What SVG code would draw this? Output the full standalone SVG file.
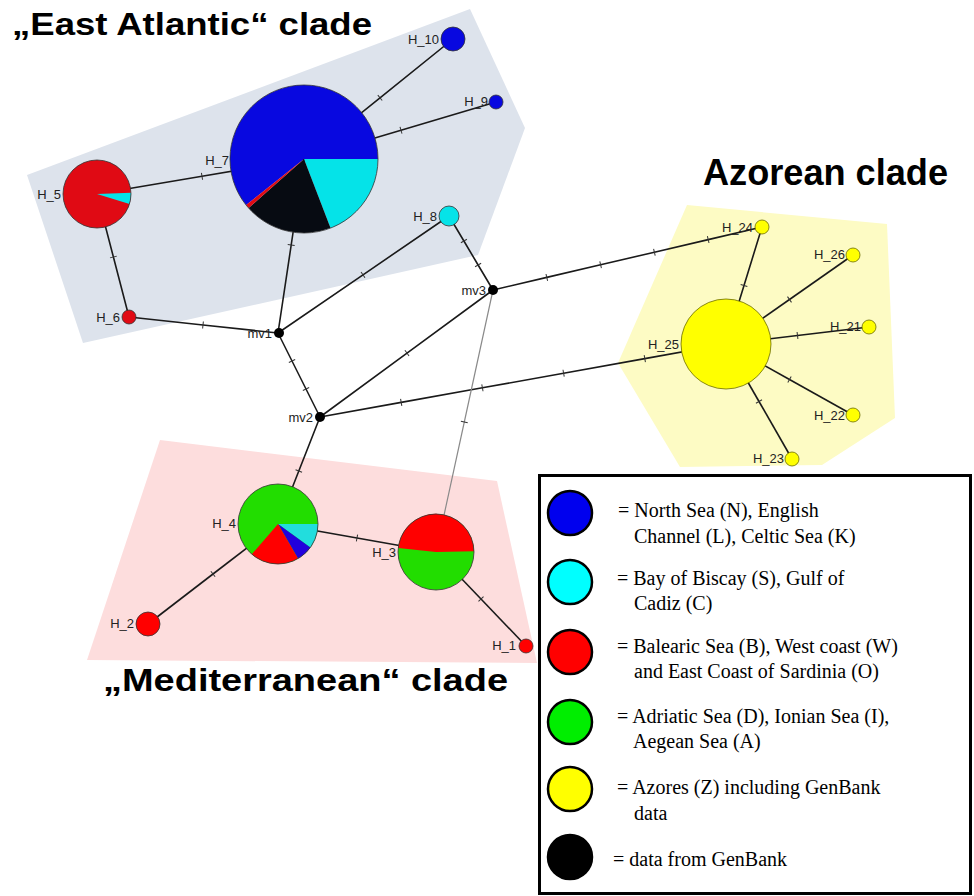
<svg xmlns="http://www.w3.org/2000/svg" width="974" height="896" viewBox="0 0 974 896">
<defs>
<style>
.edge{fill:none;stroke:#1a1a1a;stroke-width:1.6;marker-mid:url(#tick)}
.grey{fill:none;stroke:#8a8a8a;stroke-width:1.2;marker-mid:url(#tick)}
.lbl{font-family:"Liberation Sans",Arial,sans-serif;font-size:13px;fill:#222;text-anchor:end}
.title{font-family:"Liberation Sans",Arial,sans-serif;font-weight:bold;fill:#000}
.leg{font-family:"Liberation Serif","Times New Roman",serif;font-size:20px;fill:#000}
.ol{fill:none;stroke:#333;stroke-width:0.8}
.lc{stroke:#000;stroke-width:2.5}
.bl{fill:#0808e0}.cy{fill:#05e3e8}.bk{fill:#070b12}.rd{fill:#e00a14}.rr{fill:#ff0000}.gr{fill:#22dd00}.ye{fill:#ffff00}
</style>
<marker id="tick" markerUnits="userSpaceOnUse" viewBox="-5 -5 10 10" markerWidth="10" markerHeight="10" refX="0" refY="0" orient="auto">
<line x1="0" y1="-3.5" x2="0" y2="3.5" stroke="#333" stroke-width="1"/>
</marker>
</defs>
<rect width="974" height="896" fill="#fff"/>
<g id="clades">
<polygon points="27,175 470,9 525,128 478,255 83,343" fill="#dde3ec"/>
<polygon points="160,440 497,481 537,663 87,660" fill="#fddddd"/>
<polygon points="687,205 887,224 895,418 822,465 680,467 618,363" fill="#fdfbc4"/>
</g>
<g id="titles">
<text class="title" x="12" y="35" font-size="31" textLength="360" lengthAdjust="spacingAndGlyphs">„East Atlantic“ clade</text>
<text class="title" x="703" y="185" font-size="36" textLength="245" lengthAdjust="spacingAndGlyphs">Azorean clade</text>
<text class="title" x="103" y="691" font-size="32" textLength="405" lengthAdjust="spacingAndGlyphs">„Mediterranean“ clade</text>
</g>
<g id="edges">
<polyline class="edge" points="97,194 202,176.3 304,159"/>
<polyline class="edge" points="97,194 113.4,257 129,317"/>
<polyline class="edge" points="129,317 203,325 278,333"/>
<polyline class="edge" points="304,159 291.2,245 278,333"/>
<polyline class="edge" points="304,159 380,97.8 453,39"/>
<polyline class="edge" points="304,159 401,130.2 496,102"/>
<polyline class="edge" points="278,333 363,274.8 449,216"/>
<polyline class="edge" points="449,216 463.9,241 478.1,265 493,290"/>
<polyline class="edge" points="278,333 292,361 306,389 320,417"/>
<polyline class="edge" points="320,417 407,353.1 493,290"/>
<polyline class="edge" points="320,417 401.2,402.4 482.4,387.8 563.6,373.2 644.8,358.6 726,344"/>
<polyline class="edge" points="493,290 546.8,277.4 600.6,264.8 654.4,252.2 708.2,239.6 762,227"/>
<polyline class="grey" points="493,290 464.3,422 436,552"/>
<polyline class="edge" points="320,417 298.8,471 278,524"/>
<polyline class="edge" points="278,524 357,538 436,552"/>
<polyline class="edge" points="278,524 213,574 148,624"/>
<polyline class="edge" points="436,552 481,599 526,646"/>
<polyline class="edge" points="726,344 744,285.5 762,227"/>
<polyline class="edge" points="726,344 789.5,299.5 853,255"/>
<polyline class="edge" points="726,344 797.5,335.5 869,327"/>
<polyline class="edge" points="726,344 789.5,379.5 853,415"/>
<polyline class="edge" points="726,344 759,401.5 792,459"/>
</g>
<g id="H_7">
<path class="bl" d="M304,159 L246.1,205.1 A74,74 0 1 1 378,159 Z"/>
<path class="cy" d="M304,159 L378,159 A74,74 0 0 1 330.5,228.1 Z"/>
<path class="bk" d="M304,159 L330.5,228.1 A74,74 0 0 1 248.6,208 Z"/>
<path class="rd" d="M304,159 L248.6,208 A74,74 0 0 1 246.1,205.1 Z"/>
<circle class="ol" cx="304" cy="159" r="74"/>
<text class="lbl" x="229" y="165">H_7</text>
</g>
<g id="H_5">
<circle class="rd" cx="97" cy="194" r="34"/>
<path class="cy" d="M97,194 L131,192.8 A34,34 0 0 1 129.5,203.9 Z"/>
<circle class="ol" cx="97" cy="194" r="34"/>
<text class="lbl" x="61" y="199">H_5</text>
</g>
<g id="H_6">
<circle class="rd" cx="129" cy="317" r="7" stroke="#333" stroke-width="0.8"/>
<text class="lbl" x="120" y="322">H_6</text>
</g>
<g id="H_10">
<circle class="bl" cx="453" cy="39" r="12" stroke="#333" stroke-width="0.8"/>
<text class="lbl" x="439" y="44">H_10</text>
</g>
<g id="H_9">
<circle class="bl" cx="496" cy="102" r="7" stroke="#333" stroke-width="0.8"/>
<text class="lbl" x="488" y="106">H_9</text>
</g>
<g id="H_8">
<circle class="cy" cx="449" cy="216" r="10" stroke="#333" stroke-width="0.8"/>
<text class="lbl" x="437" y="221">H_8</text>
</g>
<g id="mv1">
<circle cx="279" cy="333" r="5" fill="#000"/>
<text class="lbl" x="272" y="338">mv1</text>
</g>
<g id="mv2">
<circle cx="320" cy="417" r="5" fill="#000"/>
<text class="lbl" x="313" y="422">mv2</text>
</g>
<g id="mv3">
<circle cx="493" cy="290" r="5" fill="#000"/>
<text class="lbl" x="486" y="295">mv3</text>
</g>
<g id="H_4">
<circle class="gr" cx="278" cy="524" r="40"/>
<path fill="#22dddd" d="M278,524 L318,524 A40,40 0 0 1 310.4,547.5 Z"/>
<path fill="#2200dd" d="M278,524 L310.4,547.5 A40,40 0 0 1 298,558.6 Z"/>
<path class="rr" d="M278,524 L298,558.6 A40,40 0 0 1 251.8,554.2 Z"/>
<circle class="ol" cx="278" cy="524" r="40"/>
<text class="lbl" x="236" y="528">H_4</text>
</g>
<g id="H_3">
<circle class="gr" cx="436" cy="552" r="38"/>
<path class="rr" d="M436,552 L398.2,548 A38,38 0 0 1 474,551.3 Z"/>
<circle class="ol" cx="436" cy="552" r="38"/>
<text class="lbl" x="396" y="557">H_3</text>
</g>
<g id="H_2">
<circle class="rr" cx="148" cy="624" r="12" stroke="#333" stroke-width="0.8"/>
<text class="lbl" x="134" y="628">H_2</text>
</g>
<g id="H_1">
<circle class="rr" cx="526" cy="646" r="7" stroke="#333" stroke-width="0.8"/>
<text class="lbl" x="516" y="650">H_1</text>
</g>
<g id="H_25">
<circle class="ye" cx="726" cy="344" r="45" stroke="#6b6b00" stroke-width="0.8"/>
<text class="lbl" x="679" y="349">H_25</text>
</g>
<g id="H_24">
<circle class="ye" cx="762" cy="227" r="7" stroke="#6b6b00" stroke-width="0.8"/>
<text class="lbl" x="753" y="232">H_24</text>
</g>
<g id="H_26">
<circle class="ye" cx="853" cy="255" r="7" stroke="#6b6b00" stroke-width="0.8"/>
<text class="lbl" x="845" y="259">H_26</text>
</g>
<g id="H_21">
<circle class="ye" cx="869" cy="327" r="7" stroke="#6b6b00" stroke-width="0.8"/>
<text class="lbl" x="861" y="331">H_21</text>
</g>
<g id="H_22">
<circle class="ye" cx="853" cy="415" r="7" stroke="#6b6b00" stroke-width="0.8"/>
<text class="lbl" x="845" y="420">H_22</text>
</g>
<g id="H_23">
<circle class="ye" cx="792" cy="459" r="7" stroke="#6b6b00" stroke-width="0.8"/>
<text class="lbl" x="784" y="463">H_23</text>
</g>
<g id="legend">
<rect x="539.5" y="475.5" width="431" height="418" fill="#fff" stroke="#000" stroke-width="3"/>
<circle class="lc" cx="570" cy="513" r="22" fill="#0000ee"/>
<circle class="lc" cx="570" cy="582" r="22" fill="#00ffff"/>
<circle class="lc" cx="570" cy="652" r="22" fill="#ff0000"/>
<circle class="lc" cx="570" cy="722" r="22" fill="#00ee00"/>
<circle class="lc" cx="570" cy="789" r="22" fill="#ffff00"/>
<circle class="lc" cx="570" cy="857" r="22" fill="#000"/>
<text class="leg" x="618" y="517">= North Sea (N), English</text>
<text class="leg" x="634" y="543">Channel (L), Celtic Sea (K)</text>
<text class="leg" x="617" y="585">= Bay of Biscay (S), Gulf of</text>
<text class="leg" x="634" y="610">Cadiz (C)</text>
<text class="leg" x="617" y="653">= Balearic Sea (B), West coast (W)</text>
<text class="leg" x="634" y="678">and East Coast of Sardinia (O)</text>
<text class="leg" x="617" y="723">= Adriatic Sea (D), Ionian Sea (I),</text>
<text class="leg" x="633" y="748">Aegean Sea (A)</text>
<text class="leg" x="617" y="794">= Azores (Z) including GenBank</text>
<text class="leg" x="634" y="820">data</text>
<text class="leg" x="613" y="866">= data from GenBank</text>
</g>
</svg>
